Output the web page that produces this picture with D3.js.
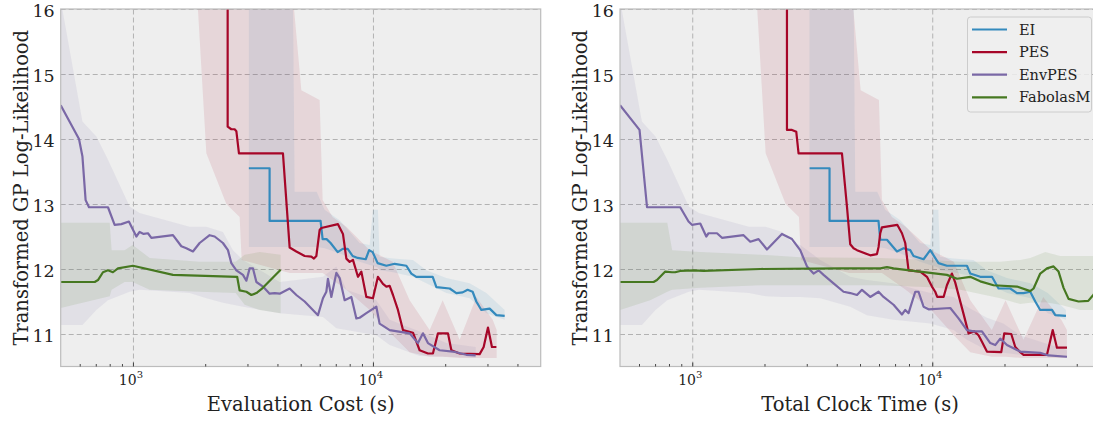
<!DOCTYPE html>
<html><head><meta charset="utf-8">
<script src="https://cdn.jsdelivr.net/npm/d3@7"></script>
<style>body{margin:0;background:#fff;} text{font-family:"DejaVu Serif",serif;fill:#222;}</style>
</head><body><svg id="c" width="1093" height="421"></svg>
<script>
// ---------- shared ----------
const yTicks = [11, 12, 13, 14, 15, 16];
const xMajorTicks = [1000, 10000];
const xMajorExp = ["3", "4"];
const xMinorTicks = [600,700,800,900,2000,3000,4000,5000,6000,7000,8000,9000,20000,30000,40000];
const seriesNames = ["EI", "PES", "EnvPES", "FabolasM"];
const seriesColors = ["#348ABD", "#A60628", "#7A68A6", "#467821"];
const xLabels = ["Evaluation Cost (s)", "Total Clock Time (s)"];
const yLabel = "Transformed GP Log-Likelihood";

// ---------- left: evaluation cost ----------
const eiEvalX = [3040,3710,3710,6050,6170,6410,6660,7130,7480,7850,8230,8640,9330,9640,9970,10460,11370,12310,13780,14450,15160,17740,18380,20880,22260,23650,24800,26020,26960,28290,30640,32680,35390];
const eiEvalY = [13.55,13.55,12.74,12.74,12.46,12.46,12.40,12.26,12.31,12.31,12.20,12.17,12.15,12.29,12.26,12.09,12.05,12.08,12.05,11.93,11.88,11.88,11.72,11.70,11.63,11.64,11.68,11.65,11.50,11.37,11.39,11.29,11.28];
const pesEvalX = [2481,2481,2570,2653,2697,2765,4217,4497,4795,5194,5537,5678,5810,5997,6095,7148,7499,7748,7996,8254,8660,8948,9387,10000,10490,11010,11370,11740,12120,12710,13340,14680,15650,16950,17780,18660,20540,21220,22980,27840,28930,30150,31320,32680];
const pesEvalY = [17.5,14.19,14.15,14.15,14.12,13.78,13.78,12.33,12.27,12.20,12.19,12.16,12.20,12.60,12.63,12.69,12.54,12.16,12.11,12.14,11.88,11.96,11.57,11.55,11.88,11.77,11.73,11.74,11.60,11.37,11.06,11.02,10.75,10.70,10.70,11.01,11.01,10.75,10.70,10.69,10.80,11.10,10.80,10.80];
const envEvalX = [500,596,616,635,656,787,839,895,962,1033,1066,1108,1155,1193,1468,1591,1669,1778,1896,2087,2190,2371,2488,2570,2697,2873,2969,3064,3162,3268,3481,3711,3894,4086,4497,4795,5194,5900,6190,6395,6494,6709,7039,7265,7622,8128,8528,8803,9387,10330,10660,11740,14220,15400,16160,16950,18960,21540,24500,26790];
const envEvalY = [14.52,14.00,13.73,13.06,12.95,12.95,12.68,12.69,12.73,12.50,12.57,12.54,12.55,12.48,12.52,12.35,12.32,12.27,12.40,12.52,12.50,12.40,12.29,12.09,11.98,11.91,11.82,12.01,12.01,11.80,11.73,11.62,11.63,11.62,11.70,11.60,11.50,11.29,11.55,11.65,11.85,11.57,11.94,11.86,11.52,11.57,11.24,11.25,11.32,11.42,11.16,11.06,11.01,10.86,11.01,10.86,10.75,10.73,10.68,10.67];
const fabEvalX = [500,693,715,750,787,825,866,1000,1468,2718,2783,2969,3114,3268,3428,4125];
const fabEvalY = [11.80,11.80,11.83,11.95,11.98,11.95,12.01,12.05,11.91,11.88,11.67,11.65,11.60,11.63,11.69,11.99];

const eiEvalBandX = [3040,4629,4719,5827,6292,7265,8803,9689,10000,10490,10660,12120,14680,16690,20220,25290,29690,35390];
const eiEvalBandHi = [16.75,16.75,13.19,13.19,12.91,12.75,12.40,12.37,12.91,12.91,12.19,12.16,12.14,11.98,11.86,11.78,11.63,11.37];
const eiEvalBandLo = [12.34,12.34,12.34,12.34,12.32,12.24,12.11,12.06,12.05,12.02,11.98,11.95,11.88,11.78,11.63,11.55,11.32,11.22];
const pesEvalBandX = [1861,2022,2450,2783,2838,4497,5032,5997,6171,6794,7748,9689,12080,14220,17230,19520,22980,26970,31540,32770];
const pesEvalBandHi = [16.75,16.75,16.75,16.75,16.75,16.75,14.75,14.60,13.06,12.80,12.65,12.29,12.11,11.52,11.06,11.52,10.91,11.57,11.22,11.06];
const pesEvalBandLo = [16.06,13.78,13.00,12.80,12.14,11.94,11.94,11.94,11.94,11.83,11.68,11.37,10.98,10.72,10.65,10.65,10.63,10.63,10.63,10.63];
const envEvalBandX = [500,616,704,787,969,1066,1723,2022,2371,2610,2873,4086,6190,7039,7748,10330,11740,15650,20220,26790];
const envEvalBandHi = [16.14,14.27,14.04,13.68,12.96,12.86,12.65,12.65,12.57,12.29,12.14,11.80,11.88,12.04,11.68,11.52,11.22,11.04,10.86,10.80];
const envEvalBandLo = [11.14,11.14,11.37,11.52,11.65,11.68,11.63,11.55,11.48,11.45,11.42,11.32,11.26,11.09,11.06,10.98,10.83,10.66,10.65,10.63];
const fabEvalBandX = [500,800,815,923,997,1174,1896,2679,2920,3373,4125];
const fabEvalBandHi = [12.71,12.71,12.29,12.29,12.37,12.17,12.11,12.11,12.22,12.26,12.22];
const fabEvalBandLo = [11.40,11.58,11.68,11.80,11.80,11.68,11.65,11.63,11.45,11.37,11.32];

// ---------- right: total clock time ----------
const eiClockX = [3083,3733,3733,5970,6072,6476,7128,7593,8094,8356,9200,9810,10620,11510,13950,14400,15850,17740,18890,21130,22540,24010,25600,26870,28180,31540,32550,36070];
const eiClockY = [13.55,13.55,12.74,12.74,12.45,12.45,12.27,12.32,12.29,12.20,12.15,12.29,12.09,12.05,12.05,11.93,11.88,11.88,11.70,11.70,11.63,11.63,11.65,11.50,11.37,11.37,11.29,11.28];
const pesClockX = [2481,2481,2603,2713,2773,4205,4412,4553,4700,4858,5516,5884,5975,6072,6171,7148,7478,7718,7966,8913,9504,9971,10290,10490,11150,11510,12080,12470,13500,14170,14960,15590,16110,16900,19390,19950,21340,22180,23260,24010,30060,31770,33080,36420];
const pesClockY = [17.5,14.14,14.14,14.11,13.78,13.78,12.96,12.38,12.32,12.29,12.21,12.23,12.34,12.55,12.64,12.68,12.55,12.40,11.98,11.96,11.88,11.73,11.65,11.57,11.57,11.75,11.93,11.79,11.31,11.01,11.04,10.98,10.88,10.73,10.72,11.01,11.00,10.80,10.72,10.68,10.68,11.06,10.79,10.79];
const envClockX = [500,603,648,891,965,997,1080,1144,1169,1268,1330,1636,1745,1889,2048,2364,2603,2818,3006,3202,3360,3525,3879,4270,4553,4858,5095,5516,5975,6268,6899,7478,7718,7966,8496,8768,9200,9652,11890,12870,13950,14860,16110,17450,18300,19200,20480,23260,28180,30520,36420];
const envClockY = [14.52,14.14,12.95,12.95,12.73,12.68,12.70,12.50,12.55,12.55,12.48,12.52,12.42,12.46,12.30,12.54,12.46,12.29,12.04,11.93,11.98,11.91,11.78,11.65,11.63,11.60,11.68,11.57,11.65,11.57,11.45,11.30,11.37,11.32,11.65,11.65,11.42,11.38,11.40,11.24,11.06,11.04,11.04,10.86,10.83,10.93,10.83,10.73,10.71,10.67,10.65];
const fabClockX = [500,690,713,772,823,849,891,1013,1115,1920,4138,6072,6476,6899,8356,11510,12680,14400,15850,18010,22540,25600,26440,28180,30060,32020,33600,35250,36980,40700,44670,46870,50000];
const fabClockY = [11.80,11.80,11.83,11.96,11.95,11.95,11.97,11.98,11.97,12.00,12.01,12.01,12.03,12.01,11.97,11.91,11.85,11.88,11.81,11.75,11.73,11.66,11.70,11.93,12.01,12.04,11.96,11.71,11.54,11.50,11.51,11.60,11.75];

const eiClockBandX = [3080,4690,4780,5900,6370,7360,8900,9800,10100,10600,10780,12260,14850,16900,20500,25700,30300,36070];
const eiClockBandHi = [16.75,16.75,13.19,13.19,12.91,12.75,12.40,12.37,12.91,12.91,12.19,12.16,12.14,11.98,11.86,11.78,11.63,11.37];
const eiClockBandLo = [12.34,12.34,12.34,12.34,12.32,12.24,12.11,12.06,12.05,12.02,11.98,11.95,11.88,11.78,11.63,11.55,11.32,11.22];
const pesClockBandX = [1861,2022,2450,2783,2838,4497,5032,5997,6171,6794,7748,9900,12300,14400,17700,20200,24000,29000,34500,36400];
const pesClockBandHi = [16.75,16.75,16.75,16.75,16.75,16.75,14.75,14.60,13.06,12.80,12.65,12.29,12.11,11.52,11.06,11.52,10.91,11.57,11.22,11.06];
const pesClockBandLo = [16.06,13.78,13.00,12.80,12.14,11.94,11.94,11.94,11.94,11.83,11.68,11.37,10.98,10.72,10.65,10.65,10.63,10.63,10.63,10.63];
const envClockBandX = [500,617,703,787,968,1066,1723,2021,2371,2610,2818,3415,4553,5344,6879,9810,12270,13950,16900,19760,23260,36420];
const envClockBandHi = [16.14,14.27,14.04,13.68,12.96,12.86,12.65,12.65,12.57,12.40,12.37,12.14,11.88,11.83,11.78,11.63,11.57,11.42,11.25,11.16,10.98,10.75];
const envClockBandLo = [11.14,11.14,11.37,11.52,11.65,11.68,11.63,11.58,11.57,11.57,11.57,11.55,11.42,11.29,11.22,11.16,11.06,10.91,10.75,10.71,10.68,10.63];
const fabClockBandX = [500,668,787,825,1080,1920,2818,6072,9810,13080,19200,23260,25600,29580,34150,41370,50000];
const fabClockBandHi = [12.71,12.71,12.71,12.29,12.26,12.22,12.18,12.17,12.14,12.11,12.11,12.14,12.17,12.26,12.20,12.20,12.20];
const fabClockBandLo = [11.37,11.52,11.65,11.68,11.71,11.75,11.75,11.75,11.72,11.68,11.55,11.46,11.48,11.49,11.45,11.37,11.37];

// ---------- build ----------
const zip = (xs, ys) => xs.map((x, i) => ({x, y: ys[i]}));
const zipBand = (xs, lo, hi) => xs.map((x, i) => ({x, lo: lo[i], hi: hi[i]}));

const panels = [
  {x0: 60.7, x1: 540.7, xlabel: xLabels[0], legend: false,
   lines: [zip(eiEvalX, eiEvalY), zip(pesEvalX, pesEvalY), zip(envEvalX, envEvalY), zip(fabEvalX, fabEvalY)],
   bands: [zipBand(eiEvalBandX, eiEvalBandLo, eiEvalBandHi), zipBand(pesEvalBandX, pesEvalBandLo, pesEvalBandHi),
           zipBand(envEvalBandX, envEvalBandLo, envEvalBandHi), zipBand(fabEvalBandX, fabEvalBandLo, fabEvalBandHi)]},
  {x0: 620, x1: 1100, xlabel: xLabels[1], legend: true,
   lines: [zip(eiClockX, eiClockY), zip(pesClockX, pesClockY), zip(envClockX, envClockY), zip(fabClockX, fabClockY)],
   bands: [zipBand(eiClockBandX, eiClockBandLo, eiClockBandHi), zipBand(pesClockBandX, pesClockBandLo, pesClockBandHi),
           zipBand(envClockBandX, envClockBandLo, envClockBandHi), zipBand(fabClockBandX, fabClockBandLo, fabClockBandHi)]}
];

const svg = d3.select("#c");
const yTop = 9, yBot = 366.5;
const y = d3.scaleLinear().domain([10.5, 16]).range([yBot, yTop]);

panels.forEach((p, pi) => {
  const x = d3.scaleLog().domain([500, 50000]).range([p.x0, p.x1]);
  const g = svg.append("g");
  const clipId = "clip" + pi;
  svg.append("defs").append("clipPath").attr("id", clipId)
    .append("rect").attr("x", p.x0).attr("y", yTop).attr("width", p.x1 - p.x0).attr("height", yBot - yTop);

  g.append("rect").attr("x", p.x0).attr("y", yTop).attr("width", p.x1 - p.x0).attr("height", yBot - yTop)
    .attr("fill", "#eeeeee");

  // grid
  const gy = g.append("g").attr("transform", `translate(${p.x0},0)`)
    .call(d3.axisLeft(y).tickValues(yTicks).tickSize(-(p.x1 - p.x0)).tickFormat(""));
  const gx = g.append("g").attr("transform", `translate(0,${yBot})`)
    .call(d3.axisBottom(x).tickValues(xMajorTicks).tickSize(-(yBot - yTop)).tickFormat(""));
  [gy, gx].forEach(a => {
    a.select(".domain").remove();
    a.selectAll("line").attr("stroke", "#b2b2b2").attr("stroke-width", 1).attr("stroke-dasharray", "5,3");
  });

  const plot = g.append("g").attr("clip-path", `url(#${clipId})`);
  // bands
  p.bands.forEach((b, i) => {
    plot.append("path").datum(b)
      .attr("d", d3.area().x(d => x(d.x)).y0(d => y(d.lo)).y1(d => y(d.hi)))
      .attr("fill", seriesColors[i]).attr("fill-opacity", 0.1).attr("stroke", "none");
  });
  // lines
  p.lines.forEach((l, i) => {
    plot.append("path").datum(l)
      .attr("d", d3.line().x(d => x(d.x)).y(d => y(d.y)))
      .attr("fill", "none").attr("stroke", seriesColors[i]).attr("stroke-width", 2.2)
      .attr("stroke-linejoin", "round");
  });

  // frame
  g.append("rect").attr("x", p.x0).attr("y", yTop).attr("width", p.x1 - p.x0).attr("height", yBot - yTop)
    .attr("fill", "none").attr("stroke", "#bcbcbc").attr("stroke-width", 1.2);

  // ticks (inward)
  const tMaj = g.append("g").attr("transform", `translate(0,${yBot})`)
    .call(d3.axisBottom(x).tickValues(xMajorTicks).tickSize(-4).tickFormat(""));
  const tMin = g.append("g").attr("transform", `translate(0,${yBot})`)
    .call(d3.axisBottom(x).tickValues(xMinorTicks).tickSize(-2.5).tickFormat(""));
  [tMaj, tMin].forEach(a => { a.select(".domain").remove(); a.selectAll("line").attr("stroke", "#333").attr("stroke-width", 0.9); });

  // y tick labels
  const yl = g.append("g").attr("transform", `translate(${p.x0},0)`)
    .call(d3.axisLeft(y).tickValues(yTicks).tickSize(0).tickPadding(6).tickFormat(d3.format("d")));
  yl.select(".domain").remove();
  yl.selectAll("text").attr("font-family", "DejaVu Serif").attr("font-size", 17.5).attr("fill", "#222")
    .attr("dy", "0.45em");

  // x tick labels with superscripts
  xMajorTicks.forEach((v, i) => {
    const t = g.append("text").attr("x", x(v) - 2).attr("y", 385).attr("text-anchor", "middle")
      .attr("font-size", 14);
    t.append("tspan").text("10");
    t.append("tspan").attr("font-size", 10).attr("dy", -7).text(xMajorExp[i]);
  });

  // axis labels
  g.append("text").attr("x", (p.x0 + p.x1) / 2).attr("y", 411).attr("text-anchor", "middle")
    .attr("font-size", 19.5).text(p.xlabel);
  g.append("text").attr("transform", `translate(${p.x0 - 33},${(yTop + yBot) / 2}) rotate(-90)`)
    .attr("text-anchor", "middle").attr("font-size", 19.5).text(yLabel);

  if (p.legend) {
    const lg = g.append("g");
    lg.append("rect").attr("x", 967.5).attr("y", 17).attr("width", 124).attr("height", 95).attr("rx", 3)
      .attr("fill", "#eeeeee").attr("fill-opacity", 0.85).attr("stroke", "#cccccc").attr("stroke-width", 1);
    seriesNames.forEach((n, i) => {
      const yy = 29.5 + i * 22.6;
      lg.append("line").attr("x1", 972).attr("x2", 1007).attr("y1", yy).attr("y2", yy)
        .attr("stroke", seriesColors[i]).attr("stroke-width", 2.2);
      lg.append("text").attr("x", 1019).attr("y", yy).attr("dy", "0.35em").attr("font-size", 14.5).text(n);
    });
  }
});
</script></body></html>
